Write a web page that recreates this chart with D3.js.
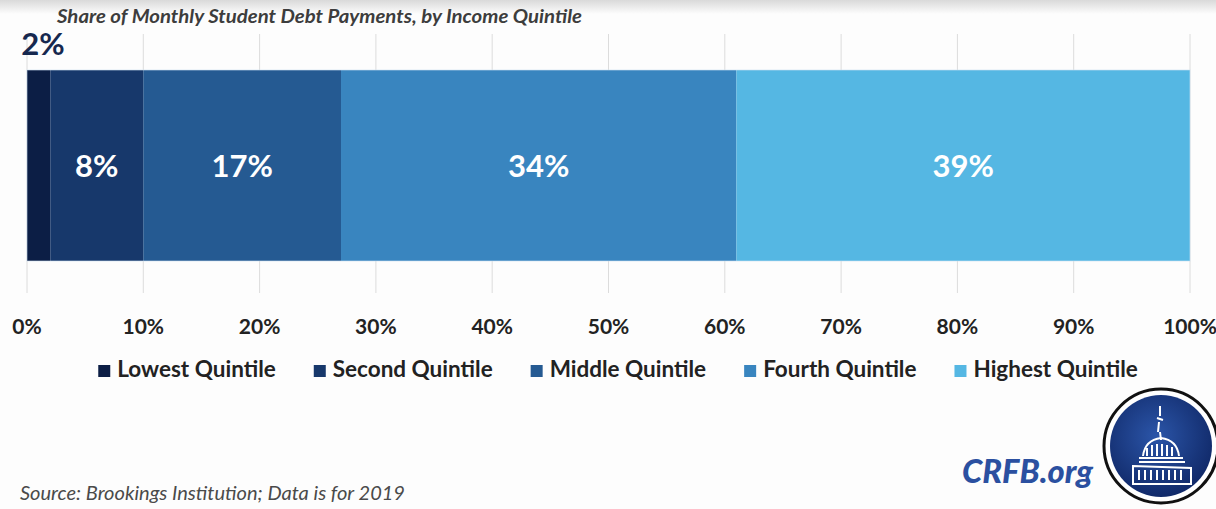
<!DOCTYPE html>
<html>
<head>
<meta charset="utf-8">
<style>
  body { margin: 0; background: #fdfdfd; }
  svg { display: block; font-family: Lato, "Open Sans", sans-serif; }
  .grid line { stroke: #dcdcdc; stroke-width: 1px; }
  .tick-label { font-weight: 700; font-size: 21px; fill: #222; text-anchor: middle; }
  .seg-label { font-weight: 700; font-size: 31px; fill: #fff; text-anchor: middle; }
  .legend text { font-weight: 700; font-size: 22.5px; fill: #222; }
</style>
</head>
<body>
<div id="chart"></div>
<script src="https://cdn.jsdelivr.net/npm/d3@7"></script>
<script>
  var width = 1216, height = 509;

  var quintiles = ["Lowest Quintile", "Second Quintile", "Middle Quintile", "Fourth Quintile", "Highest Quintile"];
  var shares = [2, 8, 17, 34, 39];
  var colors = ["#0c1e45", "#17386b", "#255a92", "#3985bf", "#55b7e3"];
  var tickValues = [0, 10, 20, 30, 40, 50, 60, 70, 80, 90, 100];

  var title = "Share of Monthly Student Debt Payments, by Income Quintile";
  var source = "Source: Brookings Institution; Data is for 2019";

  var svg = d3.select("#chart").append("svg")
      .attr("width", width)
      .attr("height", height);

  var defs = svg.append("defs");
  var topFade = defs.append("linearGradient").attr("id", "topFade")
      .attr("x1", 0).attr("y1", 0).attr("x2", 0).attr("y2", 1);
  topFade.append("stop").attr("offset", 0).attr("stop-color", "#d9d9d9");
  topFade.append("stop").attr("offset", 1).attr("stop-color", "#fdfdfd");
  var logoFill = defs.append("radialGradient").attr("id", "logoFill")
      .attr("cx", 0.45).attr("cy", 0.4).attr("r", 0.6);
  logoFill.append("stop").attr("offset", 0).attr("stop-color", "#2b55a8");
  logoFill.append("stop").attr("offset", 1).attr("stop-color", "#112a6a");

  // faint grey strip at the top of the slide
  svg.append("rect").attr("x", 0).attr("y", 0).attr("width", width).attr("height", 14)
      .attr("fill", "url(#topFade)");

  var x = d3.scaleLinear().domain([0, 100]).range([27, 1190]);
  var barTop = 70, barBottom = 261;

  // gridlines
  svg.append("g").attr("class", "grid")
    .selectAll("line").data(tickValues).join("line")
      .attr("x1", d => x(d)).attr("x2", d => x(d))
      .attr("y1", 34).attr("y2", 293);

  // stacked segments
  var ends = d3.cumsum(shares);
  var segs = shares.map((v, i) => ({ name: quintiles[i], value: v, x0: ends[i] - v, x1: ends[i], color: colors[i] }));

  svg.append("g").selectAll("rect").data(segs).join("rect")
      .attr("x", d => x(d.x0))
      .attr("y", barTop)
      .attr("width", d => x(d.x1) - x(d.x0))
      .attr("height", barBottom - barTop)
      .attr("fill", d => d.color);
  svg.append("rect")
      .attr("x", x(0)).attr("y", barTop)
      .attr("width", x(100) - x(0)).attr("height", barBottom - barTop)
      .attr("fill", "none").attr("stroke", "#cfe3f3").attr("stroke-width", 1).attr("stroke-opacity", 0.6);

  // segment labels: the tiny first one sits above the bar
  svg.append("g").selectAll("text").data(segs).join("text")
      .attr("class", "seg-label")
      .attr("x", (d, i) => i === 0 ? x(d.x0) + 16 : x((d.x0 + d.x1) / 2))
      .attr("y", (d, i) => i === 0 ? 55 : (barTop + barBottom) / 2 + 11)
      .style("fill", (d, i) => i === 0 ? "#16284f" : "#fff")
      .text(d => d.value + "%");

  // axis tick labels
  svg.append("g").selectAll("text").data(tickValues).join("text")
      .attr("class", "tick-label")
      .attr("x", d => x(d))
      .attr("y", 334)
      .text(d => d + "%");

  // legend
  var legend = svg.append("g").attr("class", "legend");
  var items = legend.selectAll("g").data(quintiles).join("g");
  items.append("rect").attr("width", 12).attr("height", 12).attr("y", -12)
      .attr("fill", (d, i) => colors[i]);
  items.append("text").attr("x", 19).attr("y", 0).text(d => d);
  var pos = 0, offsets = [];
  items.each(function(d) {
    offsets.push(pos);
    pos += 19 + this.querySelector("text").getComputedTextLength() + 38;
  });
  var legendWidth = pos - 38;
  var legendStart = 618 - legendWidth / 2;
  items.attr("transform", (d, i) => "translate(" + (legendStart + offsets[i]) + ",377)");

  // title and source
  svg.append("text")
      .attr("x", 57).attr("y", 23)
      .attr("font-size", 19).attr("font-weight", 700).attr("font-style", "italic")
      .attr("fill", "#3d3d3d")
      .attr("textLength", 525).attr("lengthAdjust", "spacingAndGlyphs")
      .text(title);
  svg.append("text")
      .attr("x", 20).attr("y", 500)
      .attr("font-size", 19).attr("font-style", "italic")
      .attr("fill", "#4a4a4a")
      .attr("textLength", 385).attr("lengthAdjust", "spacingAndGlyphs")
      .text(source);

  // CRFB branding
  svg.append("text")
      .attr("x", 962).attr("y", 483)
      .attr("font-size", 32).attr("font-weight", 900).attr("font-style", "italic")
      .attr("fill", "#2b50a0")
      .attr("textLength", 131).attr("lengthAdjust", "spacingAndGlyphs")
      .text("CRFB.org");

  var logo = svg.append("g").attr("transform", "translate(1161,446)");
  logo.append("circle").attr("r", 57).attr("fill", "#fff").attr("stroke", "#111").attr("stroke-width", 3);
  logo.append("circle").attr("r", 51).attr("fill", "url(#logoFill)");
  var cap = logo.append("g").attr("fill", "none").attr("stroke", "#fff").attr("stroke-width", 2);
  // statue and lantern
  cap.append("path").attr("d", "M-1,-40 L-1,-30 M-4,-28 L2,-26 M-2,-24 L-3,-14 M-1,-14 L0,-6");
  // dome
  cap.append("path").attr("d", "M-18,10 Q-16,-6 0,-8 Q16,-6 18,10");
  cap.append("path").attr("d", "M-22,12 L22,12 M-22,16 L24,16");
  cap.append("path").attr("d", "M-14,2 L-14,10 M-9,-1 L-9,10 M-4,-2 L-4,10 M1,-2 L1,10 M6,-1 L6,10 M11,1 L11,10");
  // base
  cap.append("path").attr("d", "M-28,20 L30,22 L30,38 L-28,38 Z");
  cap.append("path").attr("d", "M-22,24 L-22,34 M-16,24 L-16,34 M-10,24 L-10,34 M-4,24 L-4,34 M2,24 L2,34 M8,24 L8,34 M14,24 L14,34 M20,24 L20,34");
</script>
</body>
</html>
